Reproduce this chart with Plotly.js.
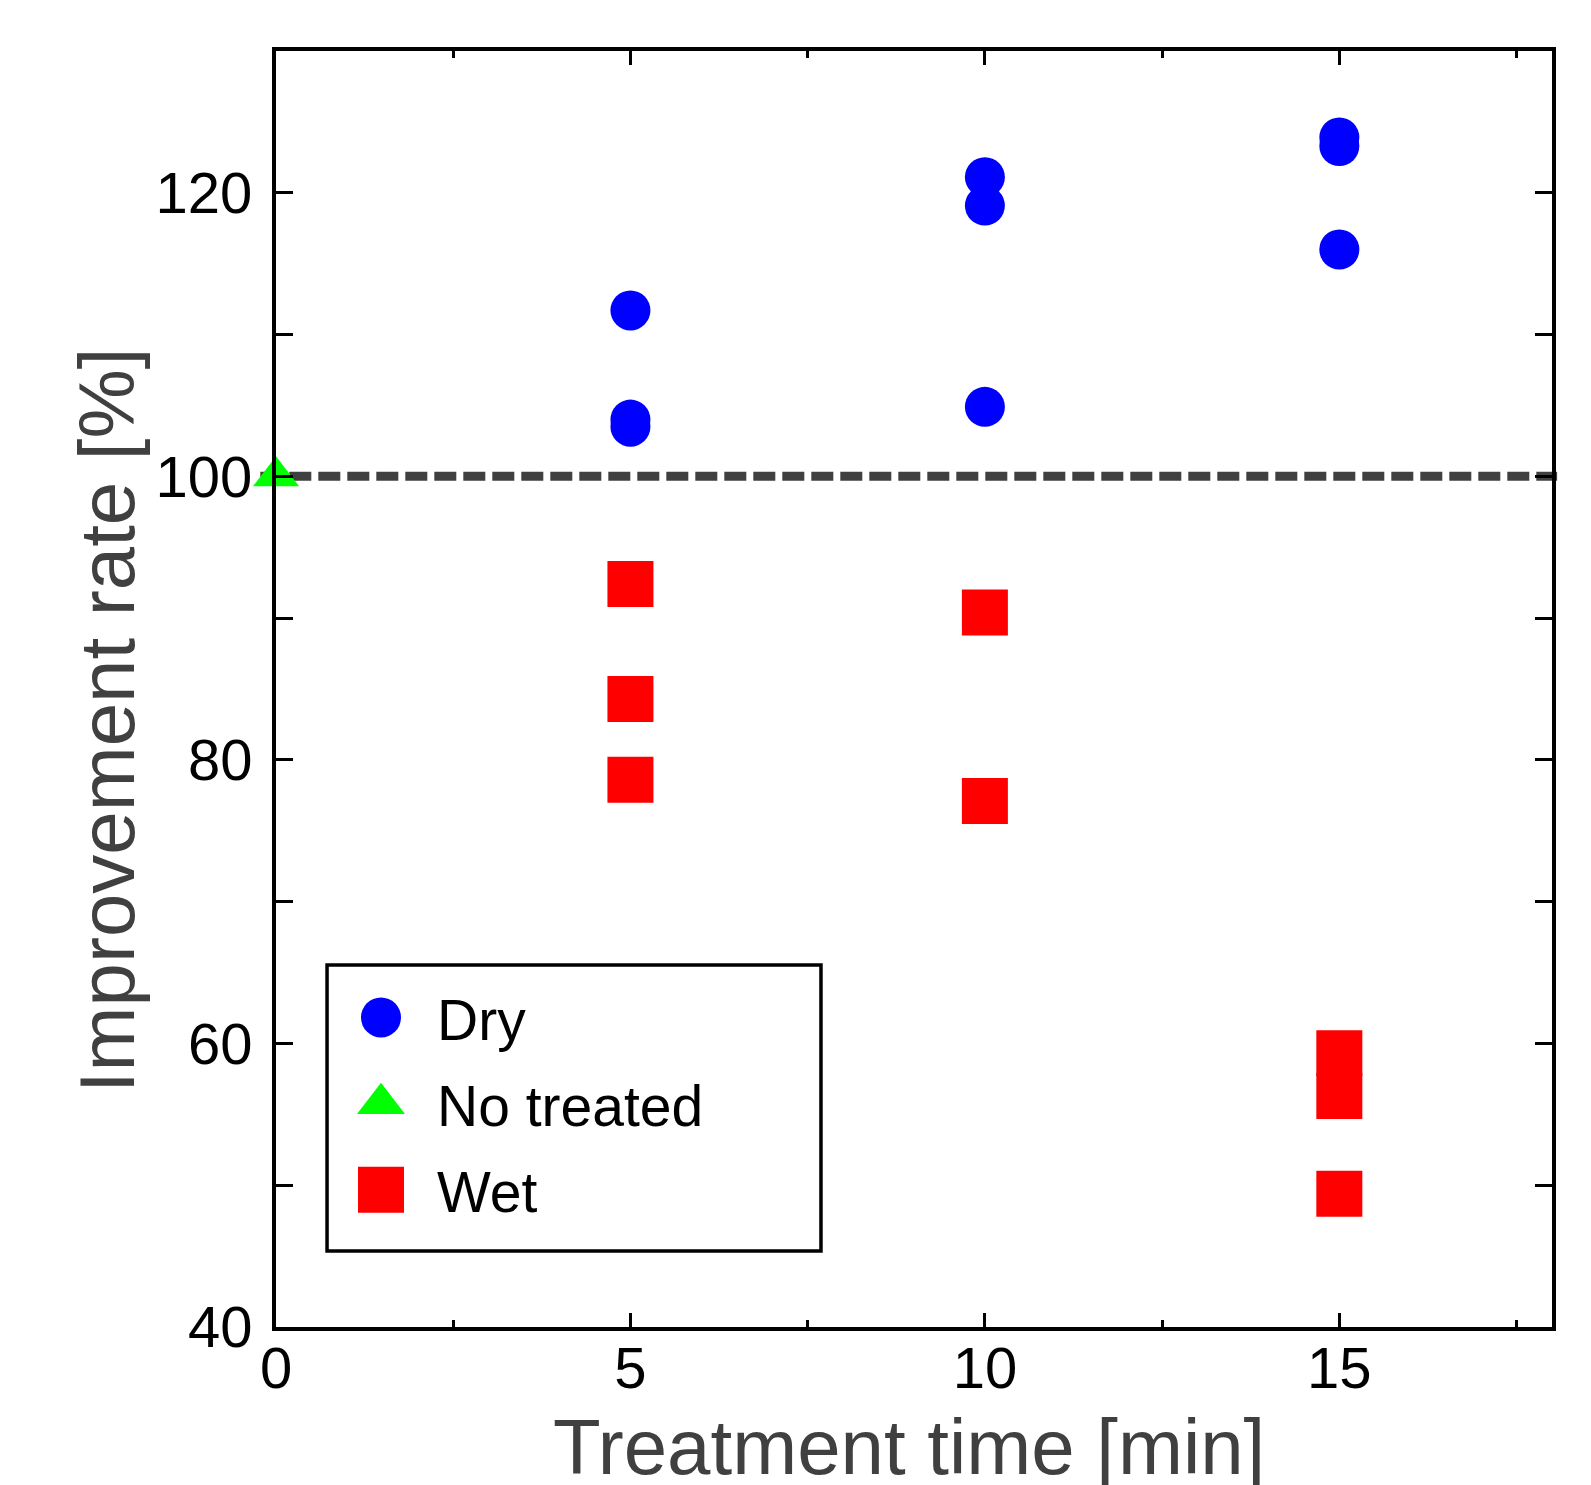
<!DOCTYPE html>
<html>
<head>
<meta charset="utf-8">
<script src="https://cdn.plot.ly/plotly-3.0.1.min.js"></script>
<style>
  html, body { margin: 0; padding: 0; background: #ffffff; }
  #chart { width: 1591px; height: 1485px; }
</style>
</head>
<body>
<div id="chart"></div>
<script>
// ---- data ----
const timeDry = [5, 5, 5, 10, 10, 10, 15, 15, 15];
const rateDry = [111.7, 104.0, 103.5, 121.1, 119.1, 104.9, 123.9, 123.3, 116.0];

const timeNoTreated = [0];
const rateNoTreated = [100];

const timeWet = [5, 5, 5, 10, 10, 15, 15, 15];
const rateWet = [92.4, 84.3, 78.6, 90.4, 77.1, 59.3, 56.3, 49.4];

const referenceRate = 100;

const xTickVals = [0, 5, 10, 15];
const xTickText = ['0', '5', '10', '15'];
const xMinorVals = [2.5, 7.5, 12.5, 17.5];
const yTickVals = [40, 60, 80, 100, 120];
const yTickText = ['40', '60', '80', '100', '120'];
const yMinorVals = [50, 70, 90, 110, 130];

const seriesNames = ['Dry', 'No treated', 'Wet'];
const xTitle = 'Treatment time [min]';
const yTitle = 'Improvement rate [%]';

// ---- chart ----
const tickFont = { family: 'Liberation Sans, Arial, sans-serif', size: 58, color: '#000000' };
const titleFont = { family: 'Liberation Sans, Arial, sans-serif', size: 78, color: '#404040' };

const traces = [
  {
    type: 'scatter', mode: 'markers', name: seriesNames[0], legendgroup: 'g1',
    x: timeDry, y: rateDry, cliponaxis: false,
    marker: { symbol: 'circle', size: 40, color: '#0000ff', line: { width: 0 } }
  },
  {
    type: 'scatter', mode: 'markers', name: seriesNames[1], legendgroup: 'g2',
    x: timeNoTreated, y: rateNoTreated, cliponaxis: false,
    marker: { symbol: 'triangle-up', size: 40, color: '#00ff00', line: { width: 0 } }
  },
  {
    type: 'scatter', mode: 'markers', name: seriesNames[2], legendgroup: 'g3',
    x: timeWet, y: rateWet, cliponaxis: false,
    marker: { symbol: 'square', size: 46, color: '#ff0000', line: { width: 0 } }
  }
];

const axisCommon = {
  showgrid: false, zeroline: false, showline: true, linecolor: '#000000', linewidth: 4,
  mirror: 'allticks', ticks: 'inside', tickcolor: '#000000', tickwidth: 3,
  tickfont: tickFont, tickmode: 'array'
};

const layout = {
  width: 1591, height: 1485,
  margin: { l: 276, r: 39, t: 51, b: 158, pad: 0 },
  paper_bgcolor: '#ffffff', plot_bgcolor: '#ffffff',
  showlegend: true,
  xaxis: Object.assign({}, axisCommon, {
    range: [0, 18], tickvals: xTickVals, ticktext: xTickText, ticklen: 14,
    ticklabelstandoff: -13,
    minor: { tickmode: 'array', tickvals: xMinorVals, ticks: 'inside', ticklen: 7, tickwidth: 3, tickcolor: '#000000', showgrid: false }
  }),
  yaxis: Object.assign({}, axisCommon, {
    range: [40, 130], tickvals: yTickVals, ticktext: yTickText, ticklen: 17,
    ticklabelstandoff: 8,
    minor: { tickmode: 'array', tickvals: yMinorVals, ticks: 'inside', ticklen: 17, tickwidth: 3, tickcolor: '#000000', showgrid: false }
  }),
  shapes: [
    {
      type: 'line', xref: 'paper', yref: 'y', x0: -0.0123, x1: 1.004, y0: referenceRate, y1: referenceRate,
      line: { color: '#404040', width: 9, dash: '22px,7px' }, layer: 'below'
    },
    {
      type: 'rect', xref: 'paper', yref: 'paper', x0: 0.0400, x1: 0.4271, y0: 0.0596, y1: 0.2837,
      line: { color: '#000000', width: 3.5 }, fillcolor: '#ffffff', layer: 'above'
    }
  ],
  legend: {
    x: 0.0384, y: 0.2767, xanchor: 'left', yanchor: 'top',
    bgcolor: 'rgba(0,0,0,0)', borderwidth: 0,
    font: { family: 'Liberation Sans, Arial, sans-serif', size: 57, color: '#000000' },
    itemwidth: 102, tracegroupgap: 9
  },
  annotations: [
    {
      text: yTitle, xref: 'paper', yref: 'paper', x: -0.1324, y: 0.4757,
      xanchor: 'center', yanchor: 'middle', textangle: -90, showarrow: false, font: titleFont
    },
    {
      text: xTitle, xref: 'paper', yref: 'paper', x: 0.496, y: -0.0940,
      xanchor: 'center', yanchor: 'middle', showarrow: false, font: titleFont
    }
  ]
};

Plotly.newPlot('chart', traces, layout, { displayModeBar: false, staticPlot: true }).then(function () {
  // enlarge legend symbols to match the reference (Plotly caps legend marker size)
  const scales = [2.5, 2.6, 2.875];
  document.querySelectorAll('.legend .traces').forEach(function (t, i) {
    t.querySelectorAll('.legendpoints path.scatterpts').forEach(function (p) {
      const tr = p.getAttribute('transform') || '';
      p.setAttribute('transform', tr + ' scale(' + scales[i] + ')');
    });
  });
});
</script>
</body>
</html>
